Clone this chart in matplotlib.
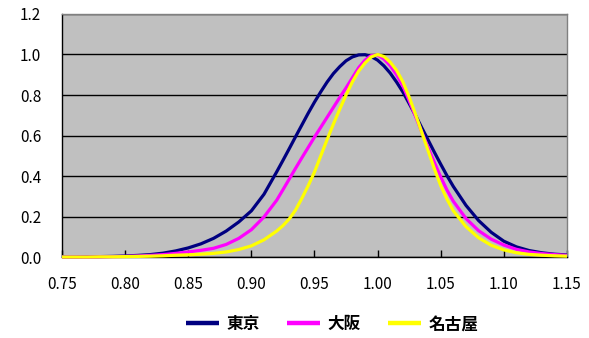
import numpy as np
import matplotlib
matplotlib.use("Agg")
import matplotlib.pyplot as plt
from matplotlib import ticker

plt.rcParams['font.family'] = ['Noto Sans CJK JP', 'DejaVu Sans']

# x grid of the curves: 0.01 steps in the tails, 0.005 steps around the peak
x_vals = [0.75, 0.76, 0.77, 0.78, 0.79, 0.80, 0.81, 0.82, 0.83, 0.84,
          0.85, 0.86, 0.87, 0.88, 0.89, 0.90, 0.91,
          0.920, 0.925, 0.930, 0.935, 0.940, 0.945, 0.950, 0.955, 0.960,
          0.965, 0.970, 0.975, 0.980, 0.985, 0.990, 0.995, 1.000, 1.005,
          1.010, 1.015, 1.020, 1.025, 1.030, 1.035, 1.040, 1.045, 1.050,
          1.055, 1.060,
          1.07, 1.08, 1.09, 1.10, 1.11, 1.12, 1.13, 1.14, 1.15]

tokyo = [0.000, 0.000, 0.001, 0.002, 0.003, 0.005, 0.008, 0.012, 0.019, 0.030,
         0.045, 0.065, 0.092, 0.128, 0.173, 0.228, 0.310,
         0.420, 0.477, 0.535, 0.594, 0.652, 0.710, 0.765, 0.816, 0.864,
         0.906, 0.940, 0.969, 0.988, 0.998, 0.999, 0.990, 0.972, 0.944,
         0.908, 0.864, 0.815, 0.758, 0.700, 0.638, 0.578, 0.517, 0.458,
         0.401, 0.348,
         0.255, 0.180, 0.122, 0.078, 0.050, 0.032, 0.021, 0.014, 0.010]

osaka = [0.000, 0.000, 0.000, 0.001, 0.002, 0.003, 0.005, 0.008, 0.012, 0.018,
         0.025, 0.033, 0.043, 0.062, 0.092, 0.135, 0.198,
         0.280, 0.332, 0.385, 0.438, 0.490, 0.541, 0.592, 0.641, 0.690,
         0.739, 0.788, 0.835, 0.885, 0.935, 0.972, 0.995, 0.997, 0.978,
         0.945, 0.900, 0.845, 0.772, 0.695, 0.617, 0.540, 0.466, 0.395,
         0.330, 0.275,
         0.190, 0.130, 0.088, 0.059, 0.038, 0.025, 0.017, 0.012, 0.008]

nagoya = [0.000, 0.000, 0.000, 0.001, 0.001, 0.002, 0.003, 0.004, 0.006, 0.009,
          0.011, 0.014, 0.018, 0.025, 0.037, 0.055, 0.085,
          0.128, 0.155, 0.188, 0.232, 0.290, 0.352, 0.420, 0.500, 0.580,
          0.657, 0.730, 0.800, 0.865, 0.918, 0.958, 0.988, 1.000, 0.990,
          0.962, 0.922, 0.865, 0.790, 0.705, 0.615, 0.525, 0.435, 0.352,
          0.285, 0.228,
          0.150, 0.095, 0.058, 0.035, 0.021, 0.013, 0.009, 0.006, 0.004]

names = ['東京', '大阪', '名古屋']
colors = ['#000080', '#FF00FF', '#FFFF00']

fig = plt.figure(figsize=(5.89, 3.38), dpi=100)
ax = fig.add_axes([0.1053, 0.2396, 0.8573, 0.7190])
ax.set_facecolor('#C0C0C0')

for vals, name, col in zip([tokyo, osaka, nagoya], names, colors):
    ax.plot(x_vals, vals, color=col, linewidth=2.3, label=name,
            solid_capstyle='butt', solid_joinstyle='round',
            clip_on=False, zorder=3)

ax.set_xlim(0.75, 1.15)
ax.set_ylim(0, 1.2)
ax.xaxis.set_major_locator(ticker.MultipleLocator(0.05))
ax.yaxis.set_major_locator(ticker.MultipleLocator(0.2))
ax.xaxis.set_major_formatter(ticker.FormatStrFormatter('%.2f'))
ax.yaxis.set_major_formatter(ticker.FormatStrFormatter('%.1f'))

ax.yaxis.grid(True, color='black', linewidth=1.0)
ax.set_axisbelow(True)

ax.tick_params(axis='x', direction='in', length=5, width=1, color='black',
               pad=14, labelsize=11)
ax.tick_params(axis='y', length=0, pad=15, labelsize=11)

for side in ['left', 'bottom']:
    ax.spines[side].set_color('black')
    ax.spines[side].set_linewidth(1.0)
for side in ['top', 'right']:
    ax.spines[side].set_color('#808080')
    ax.spines[side].set_linewidth(1.0)

leg = fig.legend(loc='center', bbox_to_anchor=(0.564, 0.041), ncol=3,
                 frameon=False, prop={'size': 12, 'weight': 'bold'},
                 handlelength=2.0, handletextpad=0.45, columnspacing=1.6)
for line in leg.get_lines():
    line.set_linewidth(3.2)

fig.savefig('out.png', dpi=100)
